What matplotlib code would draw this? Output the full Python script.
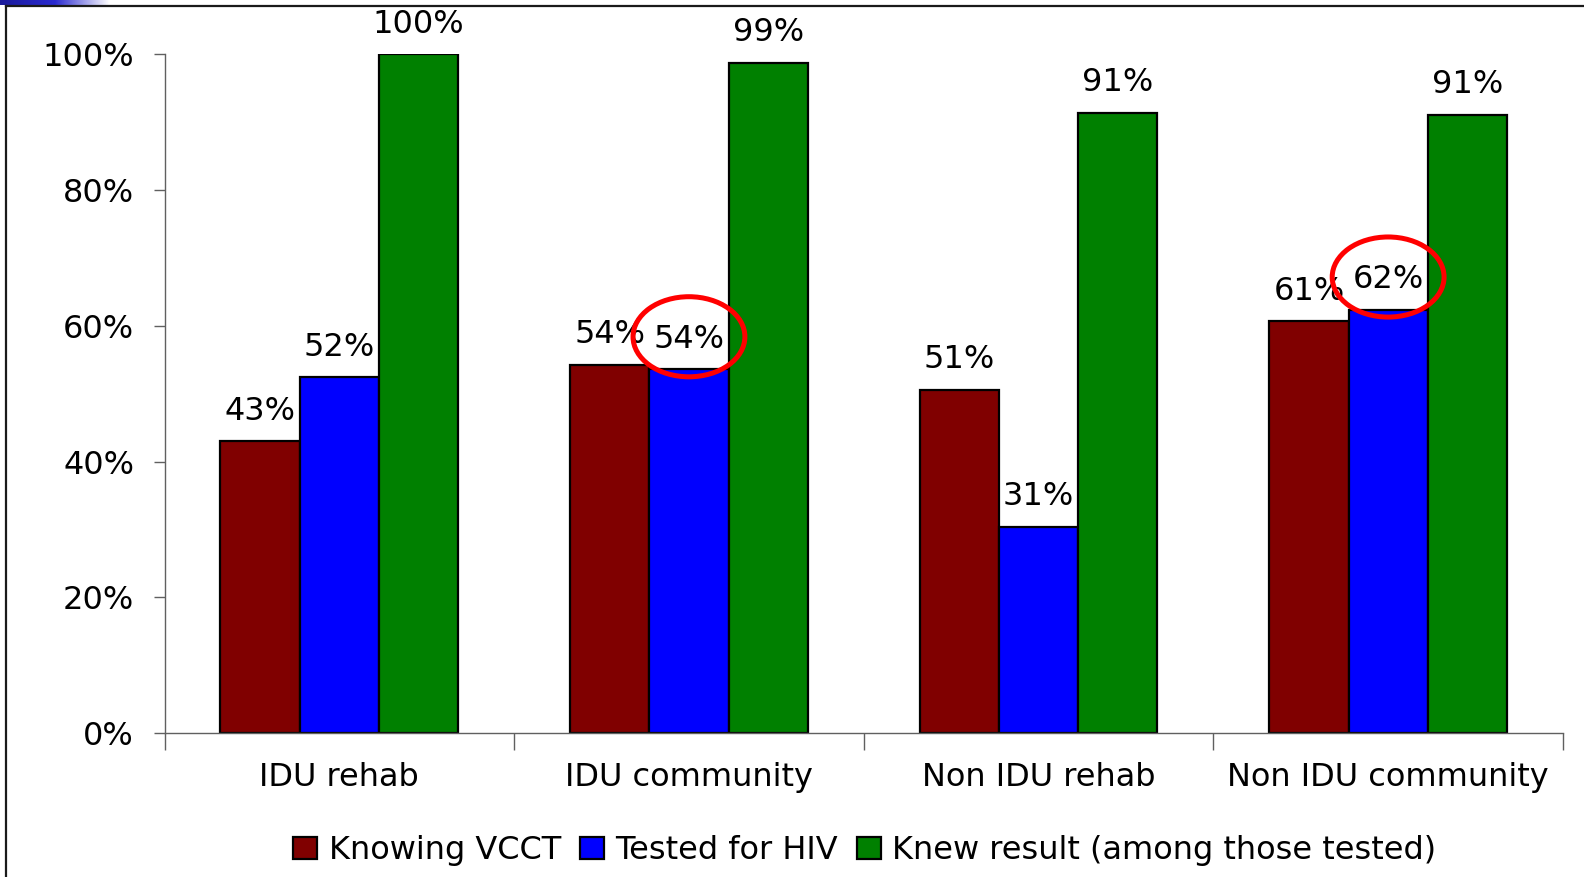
"""HIV testing knowledge by group: grouped bar chart."""

import matplotlib
matplotlib.use("Agg")
import matplotlib.pyplot as plt
import numpy as np
from matplotlib.lines import Line2D
from matplotlib.patches import Ellipse

categories = ["IDU rehab", "IDU community", "Non IDU rehab", "Non IDU community"]
series_names = ["Knowing VCCT", "Tested for HIV", "Knew result (among those tested)"]
knowing_vcct = [43.0, 54.3, 50.6, 60.7]
tested_hiv = [52.4, 53.6, 30.4, 62.4]
knew_result = [100.0, 98.8, 91.4, 91.1]
label_knowing = ["43%", "54%", "51%", "61%"]
label_tested = ["52%", "54%", "31%", "62%"]
label_knew = ["100%", "99%", "91%", "91%"]
circled_tested = [1, 3]  # groups whose "Tested for HIV" label is ringed in red

colors = ["#800000", "#0000ff", "#008000"]

plt.rcParams["font.family"] = ["DejaVu Sans"]
FS = 23

fig = plt.figure(figsize=(15.84, 8.77), dpi=100)
ax = fig.add_axes([0.1039, 0.164, 0.8828, 0.774])

x = np.arange(len(categories))
width = 0.2267
series = [knowing_vcct, tested_hiv, knew_result]
labels = [label_knowing, label_tested, label_knew]

for i, (vals, labs) in enumerate(zip(series, labels)):
    pos = x + (i - 1) * width
    ax.bar(pos, vals, width, color=colors[i], edgecolor="black",
           linewidth=1.6, label=series_names[i], zorder=2)
    for px, v, t in zip(pos, vals, labs):
        ax.annotate(t, (px, v), xytext=(0, 15.5), textcoords="offset points",
                    ha="center", va="baseline", fontsize=FS, color="black",
                    annotation_clip=False)

# red rings around the highlighted labels
for g in circled_tested:
    ax.add_patch(Ellipse((x[g], tested_hiv[g] + 4.8), 0.32, 11.8,
                         fill=False, edgecolor="#ff0000", linewidth=3.6,
                         clip_on=False, zorder=5))

ax.set_xlim(-0.5, len(categories) - 0.5)
ax.set_ylim(0, 100)
ax.set_yticks(np.arange(0, 101, 20))
ax.set_yticklabels([f"{v}%" for v in range(0, 101, 20)], fontsize=FS)
ax.set_xticks(x)
ax.set_xticklabels(categories, fontsize=FS)
ax.set_xticks(np.arange(-0.5, len(categories)), minor=True)
ax.tick_params(axis="x", which="major", length=0, pad=21)
ax.tick_params(axis="x", which="minor", length=12, width=1, color="#606060")
ax.tick_params(axis="y", length=8, width=1, color="#606060", pad=14)

for side in ["top", "right"]:
    ax.spines[side].set_visible(False)
for side in ["left", "bottom"]:
    ax.spines[side].set_color("#606060")
    ax.spines[side].set_linewidth(1.0)

fig.legend(loc="center", bbox_to_anchor=(0.546, 0.03), ncol=3, frameon=False,
           fontsize=FS, handlelength=0.75, handleheight=0.7,
           handletextpad=0.35, columnspacing=0.6)

# slide frame and corner decoration
fig.add_artist(Line2D([6 / 1584, 1], [1 - 6 / 877, 1 - 6 / 877],
                      color="#1a1a1a", linewidth=1.6))
fig.add_artist(Line2D([6 / 1584, 6 / 1584], [0, 1 - 6 / 877],
                      color="#1a1a1a", linewidth=1.6))
deco = fig.add_axes([0, 1 - 5 / 877, 110 / 1584, 5 / 877])
grad = np.linspace(0, 1, 200).reshape(1, -1)
deco.imshow(grad, aspect="auto", cmap=matplotlib.colors.LinearSegmentedColormap.from_list(
    "corner", ["#1a1a9a", "#2a2ad0", "#ffffff"]))
deco.axis("off")

fig.savefig("out.png", dpi=100)
